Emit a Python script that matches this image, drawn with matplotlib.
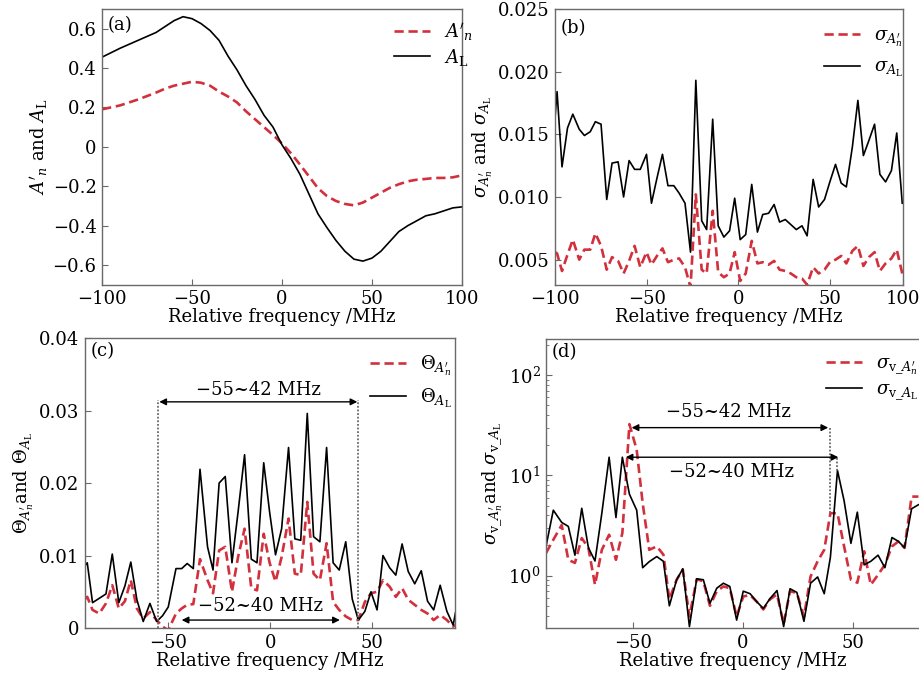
import numpy as np
import matplotlib
matplotlib.use("Agg")
from matplotlib import pyplot as plt
from matplotlib.ticker import FuncFormatter

plt.rcParams["font.family"] = ["DejaVu Serif"]
plt.rcParams["mathtext.fontset"] = "dejavuserif"
plt.rcParams["font.size"] = 13

RED = "#d2303c"
GREY = "#6a6a6a"

# (a) mean signals
freq_a = [-100, -90, -80, -70, -65, -60, -55, -50, -45, -40, -35, -30, -25, -20,
          -15, -10, -5, 0, 5, 10, 15, 20, 25, 30, 35, 40, 45, 50, 55, 60, 65,
          70, 75, 80, 85, 90, 95, 100]
a_n = [0.19, 0.21, 0.24, 0.275, 0.295, 0.31, 0.32, 0.33, 0.325, 0.31, 0.28,
       0.255, 0.225, 0.18, 0.14, 0.10, 0.06, 0.017, -0.033, -0.09, -0.15, -0.21,
       -0.25, -0.275, -0.29, -0.297, -0.283, -0.258, -0.233, -0.208, -0.19,
       -0.175, -0.167, -0.163, -0.158, -0.158, -0.155, -0.145]
a_l = [0.455, 0.50, 0.54, 0.58, 0.61, 0.64, 0.66, 0.65, 0.625, 0.59, 0.54,
       0.46, 0.39, 0.31, 0.24, 0.16, 0.10, 0.01, -0.06, -0.14, -0.24, -0.34,
       -0.41, -0.475, -0.53, -0.57, -0.58, -0.565, -0.53, -0.48, -0.43, -0.40,
       -0.375, -0.35, -0.34, -0.325, -0.31, -0.305]

# (b) standard deviations
freq_b = [-100, -98.9, -96.2, -93.2, -90.3, -86.8, -84.0, -80.8, -78.0, -74.9,
          -71.8, -68.9, -65.6, -62.6, -59.6, -56.6, -53.5, -50.1, -47.4, -44.4,
          -41.4, -38.4, -35.2, -32.3, -29.1, -26.1, -23.2, -20.0, -17.3, -14.0,
          -11.0, -7.9, -4.8, -2.0, 1.0, 4.0, 7.3, 10.4, 13.3, 16.5, 19.5, 22.5,
          25.6, 28.6, 31.6, 34.7, 37.5, 40.8, 43.8, 47.0, 49.9, 53.0, 56.1,
          58.9, 62.2, 65.2, 68.2, 71.2, 74.3, 77.2, 80.3, 83.5, 86.4, 89.4]
sigma_an = [0.0056, 0.0055, 0.0041, 0.0054, 0.0066, 0.0050, 0.0058, 0.0058,
            0.0071, 0.0061, 0.0042, 0.0052, 0.0049, 0.0039, 0.0049, 0.0061,
            0.0044, 0.0056, 0.0046, 0.0053, 0.0059, 0.0048, 0.0050, 0.0051,
            0.0044, 0.0028, 0.0102, 0.0042, 0.0039, 0.0089, 0.0040, 0.0036,
            0.0039, 0.0056, 0.0033, 0.0039, 0.0065, 0.0047, 0.0048, 0.0046,
            0.0049, 0.0042, 0.0041, 0.0039, 0.0036, 0.0035, 0.0030, 0.0044,
            0.0039, 0.0042, 0.0048, 0.0050, 0.0053, 0.0047, 0.0057, 0.0061,
            0.0045, 0.0052, 0.0056, 0.0041, 0.0047, 0.0051, 0.0058, 0.0039]
sigma_al = [0.0163, 0.0184, 0.0124, 0.0155, 0.0166, 0.0154, 0.0149, 0.0152,
            0.0160, 0.0158, 0.0098, 0.0127, 0.0128, 0.0100, 0.0129, 0.0122,
            0.0122, 0.0134, 0.0095, 0.0115, 0.0134, 0.0109, 0.0109, 0.0103,
            0.0095, 0.0056, 0.0193, 0.0081, 0.0074, 0.0162, 0.0077, 0.0068,
            0.0073, 0.0099, 0.0066, 0.0070, 0.0110, 0.0072, 0.0086, 0.0087,
            0.0094, 0.0080, 0.0082, 0.0078, 0.0074, 0.0077, 0.0069, 0.0114,
            0.0092, 0.0098, 0.0112, 0.0126, 0.0111, 0.0108, 0.0140, 0.0177,
            0.0133, 0.0145, 0.0158, 0.0118, 0.0112, 0.0121, 0.0151, 0.0095]

# (c) Theta
freq_c = [-91, -89.9, -87.3, -84, -80.7, -77.6, -74.4, -71.4, -68.5, -65.5,
          -62.4, -59.1, -55.8, -52.9, -50.1, -46.3, -43.5, -40.8, -37.8, -34.5,
          -30.8, -28.1, -25.1, -22.1, -18.8, -15.8, -12.6, -9.3, -6.5, -3.2,
          -0.3, 2.6, 5.6, 9.0, 12.1, 15.0, 18.2, 21.3, 24.4, 27.7, 30.9, 33.9,
          37.1, 40.3, 43.3, 46.5, 49.5, 52.5, 55.4, 58.7, 61.7, 64.8, 67.8,
          71.0, 74.2, 77.3, 80.3, 83.5, 86.8, 89.9, 91.0]
theta_an = [0.0040, 0.0043, 0.0025, 0.0020, 0.0034, 0.0059, 0.0027, 0.0037,
            0.0066, 0.0027, 0.0013, 0.0022, 0.0011, 0.0002, -0.0003, 0.0020,
            0.0027, 0.0032, 0.0033, 0.0095, 0.0066, 0.0048, 0.0107, 0.0112,
            0.0050, 0.0098, 0.0137, 0.0055, 0.0052, 0.0130, 0.0090, 0.0064,
            0.0098, 0.0151, 0.0075, 0.0073, 0.0174, 0.0075, 0.0066, 0.0117,
            0.0036, 0.0025, 0.0016, 0.0011, 0.0011, 0.0036, 0.0048, 0.0050,
            0.0066, 0.0057, 0.0043, 0.0055, 0.0039, 0.0032, 0.0025, 0.0020,
            0.0011, 0.0018, 0.0011, 0.0002, 0.0004]
theta_al = [0.0086, 0.0090, 0.0035, 0.0041, 0.0047, 0.0102, 0.0035, 0.0058,
            0.0091, 0.0039, 0.0009, 0.0034, 0.0009, 0.0017, 0.0029, 0.0082,
            0.0082, 0.0089, 0.0082, 0.0219, 0.0112, 0.0080, 0.0200, 0.0209,
            0.0090, 0.0160, 0.0239, 0.0095, 0.0090, 0.0228, 0.0160, 0.0101,
            0.0137, 0.0249, 0.0123, 0.0121, 0.0296, 0.0126, 0.0119, 0.0249,
            0.0090, 0.0080, 0.0119, 0.0040, 0.0011, 0.0023, 0.0050, 0.0025,
            0.0100, 0.0083, 0.0073, 0.0116, 0.0078, 0.0061, 0.0079, 0.0037,
            0.0025, 0.0059, 0.0023, 0.0004, 0.0021]

# (d) frequency sensitivity (log scale)
freq_d = [-89.3, -86, -82.2, -79.2, -76.2, -73.1, -70.1, -67.1, -64, -60.7,
          -57.6, -54.7, -51.5, -48.2, -45.5, -42.5, -39.1, -36.1, -33.4, -30.1,
          -27.3, -24.3, -21, -18, -15, -11.9, -8.9, -6, -2.9, 0.1, 3.2, 6.2,
          9.2, 12.2, 15.4, 18.4, 21.3, 24.4, 27.6, 30.6, 33.8, 36.8, 39.6,
          42.8, 45.8, 48.9, 51.8, 54.9, 57.9, 61.2, 64.3, 67.5, 70.4, 73.2,
          76.4, 79.5]
sv_an = [1.68, 2.28, 3.2, 1.44, 1.34, 2.37, 1.89, 0.81, 1.81, 2.56, 1.44, 2.66,
         32.5, 18, 5.3, 1.81, 1.96, 1.62, 0.58, 0.91, 1.15, 0.39, 0.92, 0.88,
         0.50, 0.70, 0.78, 0.75, 0.39, 0.62, 0.64, 0.55, 0.46, 0.58, 0.65, 0.33,
         0.70, 0.67, 0.39, 0.98, 1.39, 1.81, 4.2, 4.2, 1.96, 0.91, 0.85, 1.75,
         0.81, 1.02, 1.29, 1.96, 2.19, 1.89, 6.15, 6.15]
sv_al = [1.96, 4.5, 3.4, 3.1, 1.6, 4.7, 1.9, 1.4, 4.2, 15.2, 3.8, 15.2, 6.5,
         4.5, 1.2, 1.38, 1.55, 1.39, 0.50, 0.91, 1.17, 0.31, 0.93, 0.91, 0.53,
         0.75, 0.84, 0.78, 0.36, 0.70, 0.66, 0.55, 0.47, 0.59, 0.71, 0.31, 0.74,
         0.68, 0.35, 0.84, 0.97, 0.66, 1.53, 11.2, 5.6, 2.1, 4.3, 1.28, 1.39,
         1.6, 1.2, 2.4, 2.2, 1.9, 4.65, 5.1]

# insensitive ranges marked in (c) and (d)
range_outer = (-55, 42)
range_inner = (-52, 40)


def num_fmt(v, pos):
    return f"{v:g}".replace("-", "\u2212")


def style(ax, label, label_y=0.955):
    for s in ax.spines.values():
        s.set_color(GREY)
        s.set_linewidth(1.0)
    ax.tick_params(direction="in", length=4, width=0.8, color=GREY, pad=4)
    ax.tick_params(which="minor", direction="in", length=2, color=GREY)
    ax.set_xlabel("Relative frequency /MHz", labelpad=0)
    ax.text(0.015, label_y, label, transform=ax.transAxes, ha="left", va="center")


fig = plt.figure(figsize=(9.2, 6.78), dpi=100)

ax_a = fig.add_axes([0.111, 0.580, 0.391, 0.407])
ax_b = fig.add_axes([0.6033, 0.580, 0.3786, 0.407])
ax_c = fig.add_axes([0.0924, 0.0737, 0.4022, 0.4277])
ax_d = fig.add_axes([0.5935, 0.0737, 0.406, 0.4263])

dash = dict(color=RED, lw=1.9, ls=(0, (3.5, 1.8)))
solid = dict(color="black", lw=1.2)
arrow = dict(arrowstyle="<|-|>", color="black", lw=1.0, mutation_scale=10,
             shrinkA=0, shrinkB=0)
dotted = dict(color=GREY, lw=1.3, ls=(0, (1, 1)))

# (a)
ax_a.plot(freq_a, a_n, label=r"$A'_n$", **dash)
ax_a.plot(freq_a, a_l, label=r"$A_\mathrm{L}$", **solid)
ax_a.set_xlim(-100, 100)
ax_a.set_ylim(-0.7, 0.7)
ax_a.set_xticks([-100, -50, 0, 50, 100])
ax_a.set_yticks([-0.6, -0.4, -0.2, 0, 0.2, 0.4, 0.6])
ax_a.xaxis.set_major_formatter(FuncFormatter(num_fmt))
ax_a.yaxis.set_major_formatter(FuncFormatter(num_fmt))
ax_a.set_ylabel(r"$A'_n$ and $A_\mathrm{L}$", labelpad=2)
style(ax_a, "(a)", 0.94)
ax_a.legend(loc="upper left", bbox_to_anchor=(0.78, 0.995), frameon=False,
            handlelength=2.0, labelspacing=0.2, borderaxespad=0.2)

# (b)
ax_b.plot(freq_b, sigma_an, label=r"$\sigma_{A_n^{\prime}}$", **dash)
ax_b.plot(freq_b, sigma_al, label=r"$\sigma_{A_\mathrm{L}}$", **solid)
ax_b.set_xlim(-100, 90)
ax_b.set_ylim(0.003, 0.025)
ax_b.set_xticks([-100, -50, 0, 50, 90])
ax_b.set_xticklabels(["\u2212100", "\u221250", "0", "50", "100"])
ax_b.set_yticks([0.005, 0.010, 0.015, 0.020, 0.025])
ax_b.yaxis.set_major_formatter(FuncFormatter(lambda v, p: f"{v:.3f}"))
ax_b.set_ylabel(r"$\sigma_{A_n^{\prime}}$ and $\sigma_{A_\mathrm{L}}$", labelpad=2)
style(ax_b, "(b)", 0.93)
ax_b.legend(loc="upper left", bbox_to_anchor=(0.74, 0.975), frameon=False,
            handlelength=2.0, labelspacing=0.5, borderaxespad=0.2)

# (c)
ax_c.plot(freq_c, theta_an, label=r"$\mathit{\Theta}_{A_n^{\prime}}$", **dash)
ax_c.plot(freq_c, theta_al, label=r"$\mathit{\Theta}_{A_\mathrm{L}}$", **solid)
ax_c.set_xlim(-91, 90.8)
ax_c.set_ylim(0, 0.04)
ax_c.set_xticks([-50, 0, 50])
ax_c.set_yticks([0, 0.01, 0.02, 0.03, 0.04])
ax_c.xaxis.set_major_formatter(FuncFormatter(num_fmt))
ax_c.yaxis.set_major_formatter(FuncFormatter(num_fmt))
ax_c.set_ylabel(r"$\mathit{\Theta}_{A_n^{\prime}}$and $\mathit{\Theta}_{A_\mathrm{L}}$",
                labelpad=2)
style(ax_c, "(c)")
ax_c.legend(loc="upper left", bbox_to_anchor=(0.74, 0.985), frameon=False,
            handlelength=2.0, labelspacing=0.5, borderaxespad=0.2)
for xv in (range_outer[0], range_outer[1] + 1.3):
    ax_c.axvline(xv, ymax=0.788, **dotted)
ax_c.annotate("", xy=(range_outer[0] + 0.5, 0.0312),
              xytext=(range_outer[1] + 0.8, 0.0312), arrowprops=arrow)
ax_c.text(-6, 0.0329, "\u221255~42 MHz", ha="center", va="center")
ax_c.annotate("", xy=(-43.5, 0.0011), xytext=(34.2, 0.0011), arrowprops=arrow)
ax_c.text(-5, 0.0031, "\u221252~40 MHz", ha="center", va="center")

# (d)
ax_d.plot(freq_d, sv_an, label=r"$\sigma_{\mathrm{v\_}A_n^{\prime}}$", **dash)
ax_d.plot(freq_d, sv_al, label=r"$\sigma_{\mathrm{v\_}A_\mathrm{L}}$", **solid)
ax_d.set_yscale("log")
ax_d.set_xlim(-89.3, 80)
ax_d.set_ylim(0.3, 230)
ax_d.set_xticks([-50, 0, 50])
ax_d.xaxis.set_major_formatter(FuncFormatter(num_fmt))
ax_d.set_ylabel(r"$\sigma_{\mathrm{v\_}A_n^{\prime}}$and $\sigma_{\mathrm{v\_}A_\mathrm{L}}$",
                labelpad=2)
style(ax_d, "(d)")
ax_d.legend(loc="upper left", bbox_to_anchor=(0.72, 0.985), frameon=False,
            handlelength=2.0, labelspacing=0.2, borderaxespad=0.2)
ax_d.plot([39.3, 39.3], [30, 4.2], **dotted)
ax_d.plot([42.7, 42.7], [15, 11.2], **dotted)
ax_d.annotate("", xy=(-50.5, 30), xytext=(38.6, 30), arrowprops=arrow)
ax_d.text(-6.6, 43, "\u221255~42 MHz", ha="center", va="center")
ax_d.annotate("", xy=(-53.2, 15.2), xytext=(43.2, 15.2), arrowprops=arrow)
ax_d.text(-5.1, 10.8, "\u221252~40 MHz", ha="center", va="center")

fig.savefig("out.png", dpi=100)
